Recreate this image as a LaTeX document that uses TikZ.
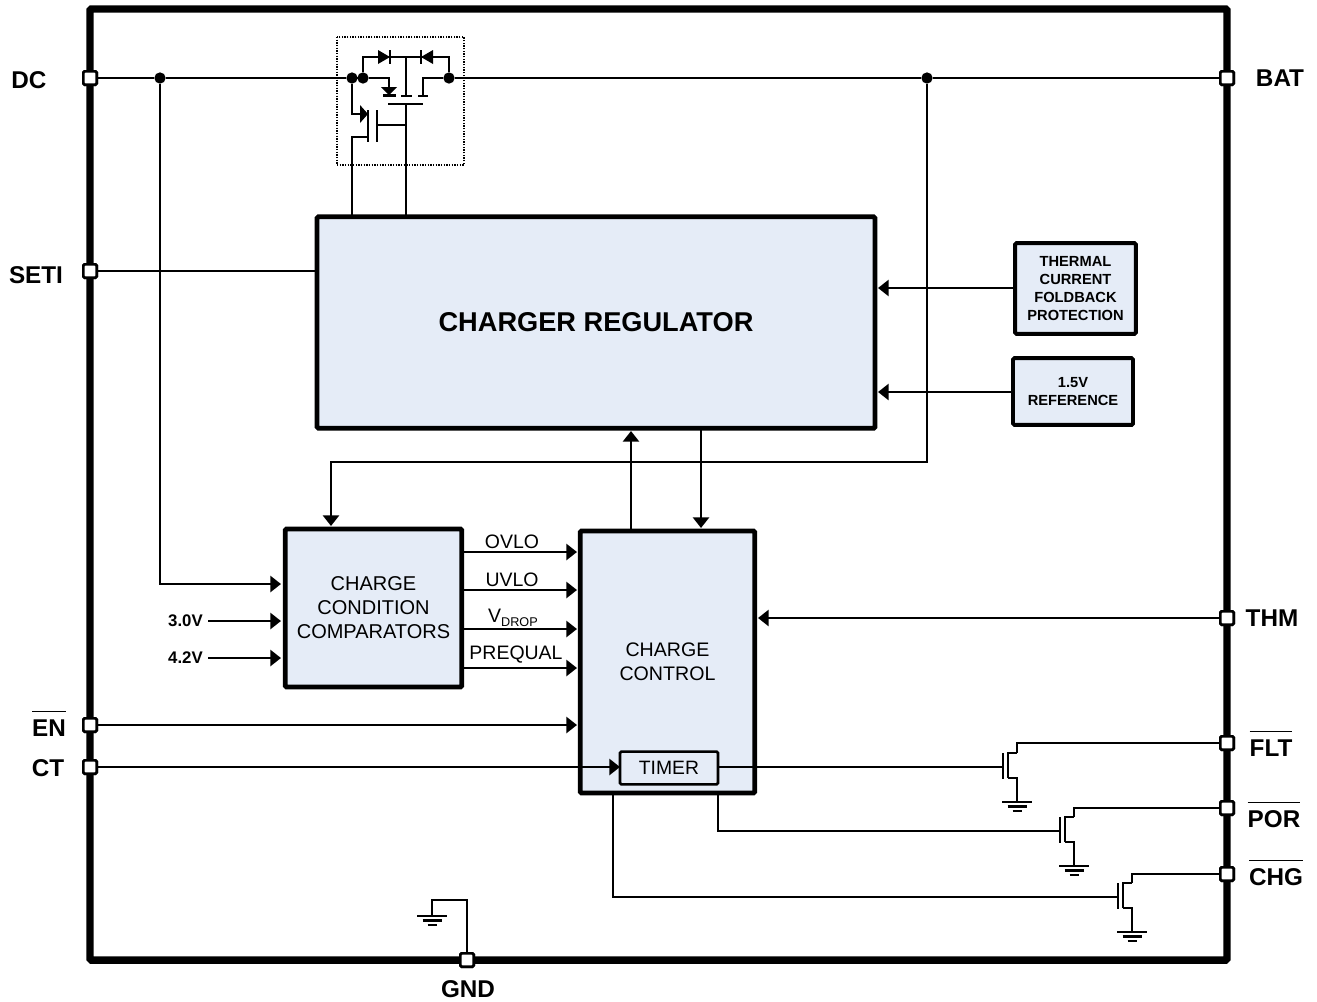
\documentclass[tikz,border=0pt]{standalone}
\usepackage{fontspec}
\setmainfont{Liberation Sans}
\usepackage{amsmath}
\usetikzlibrary{arrows.meta}
\definecolor{blockblue}{HTML}{E5ECF7}
\newcommand{\barred}[1]{$\overline{\mbox{\rule{0pt}{16.2pt}\bfseries #1}}$}
\newcommand{\gndsym}[2]{
	\draw[lowwire] (#1-15,#2) -- (#1+15,#2);
	\draw[lowwire] (#1-9.5,#2+4.5) -- (#1+9.5,#2+4.5);
	\draw[lowwire] (#1-4.5,#2+9) -- (#1+4.5,#2+9);
}
\newcommand{\lowfet}[3]{
	\coordinate (#1g) at (#2,#3);
	\coordinate (#1d) at (#2+14,#3-14);
	\draw[lowwire] (#2,#3-14) -- (#2,#3+12);
	\draw[lowwire] (#2+5,#3+11) -- (#2+5,#3-14) -- (#1d);
	\draw[lowwire] (#2+5,#3+11) -- (#2+14,#3+11) -- (#2+14,#3+35);
	\gndsym{#2+14}{#3+35}
}
\tikzset{
	block/.style={draw,line width=3.6pt,rounded corners=1pt,fill=blockblue,align=center,inner sep=0pt,font=\fontsize{14.7}{18}\selectfont},
	smallblock/.style={block,line width=2.9pt,font=\fontsize{11}{13.5}\selectfont\bfseries},
	pinbox/.style={draw,line width=2pt,fill=white,rounded corners=1pt,minimum size=10pt,inner sep=0pt},
	pinlabel/.style={font=\fontsize{18.2}{20}\selectfont\bfseries,inner sep=0pt},
	sig/.style={font=\fontsize{14.6}{16}\selectfont,inner sep=0pt},
	volt/.style={font=\fontsize{12.6}{14}\selectfont\bfseries,inner sep=0pt,anchor=east},
	dot/.style={circle,fill,minimum size=8.5pt,inner sep=0pt},
	wire/.style={line width=2.2pt,line join=miter},
	lowwire/.style={line width=2pt},
	arr/.style={wire,-{Triangle[length=8pt,width=12pt,sep=0pt]}},
}
\begin{document}
\begin{tikzpicture}[x=0.75pt,y=-0.75pt]
	\useasboundingbox (0,0) rectangle (1317,1001);
	\draw[line width=5.6pt,rounded corners=1pt] (90,9) rectangle (1227,960);

	% blocks
	\node[block,minimum width=418.5pt,minimum height=158.5pt,font=\fontsize{20.4}{24}\selectfont\bfseries] (reg) at (596,322.5) {CHARGER REGULATOR};
	\node[block,minimum width=132.5pt,minimum height=118.5pt,font=\fontsize{15}{18}\selectfont] (comp) at (373.5,608) {CHARGE\\CONDITION\\COMPARATORS};
	\node[block,minimum width=131pt,minimum height=196.5pt] (ctrl) at (667.5,662) {CHARGE\\CONTROL};
	\node[block,line width=1.9pt,minimum width=73.5pt,minimum height=24.5pt,font=\fontsize{14.5}{16}\selectfont] (timer) at (669,768) {TIMER};
	\node[smallblock,minimum width=90.5pt,minimum height=68pt] (therm) at (1075.5,288.5) {THERMAL\\CURRENT\\FOLDBACK\\PROTECTION};
	\node[smallblock,minimum width=90pt,minimum height=50pt] (vref) at (1073,391.5) {1.5V\\REFERENCE};

	% pins
	\node[pinbox] (dc) at (90,78) {};
	\node[pinbox] (bat) at (1227,78) {};
	\node[pinbox] (seti) at (90,271) {};
	\node[pinbox] (thm) at (1227,618) {};
	\node[pinbox] (en) at (90,725) {};
	\node[pinbox] (ct) at (90,767) {};
	\node[pinbox] (flt) at (1227,743) {};
	\node[pinbox] (por) at (1227,808) {};
	\node[pinbox] (chg) at (1227,874) {};
	\node[pinbox] (gnd) at (467,960) {};

	\node[pinlabel] (dcl) at (29,80) {DC};
	\node[pinlabel] (batl) at (1280,78) {BAT};
	\node[pinlabel] (setil) at (36,275) {SETI};
	\node[pinlabel] (thml) at (1272,618) {THM};
	\node[pinlabel] (enl) at (49,723) {\barred{EN}};
	\node[pinlabel] (ctl) at (48,768) {CT};
	\node[pinlabel] (fltl) at (1271,743) {\barred{FLT}};
	\node[pinlabel] (porl) at (1274,814) {\barred{POR}};
	\node[pinlabel] (chgl) at (1276,872) {\barred{CHG}};
	\node[pinlabel] (gndl) at (468,989) {GND};

	% junctions
	\node[dot] (j1) at (160,78) {};
	\node[dot] (j2) at (352,78) {};
	\node[dot] (j3) at (363,78) {};
	\node[dot] (j4) at (449,78) {};
	\node[dot] (j5) at (927,78) {};

	% pass devices
	\draw[densely dotted,line width=1pt] (337,37) rectangle (464,165);
	\coordinate (top) at (406,57);
	\coordinate (gate) at (406,104);
	\coordinate (reg1) at (352,216);
	\coordinate (reg2) at (406,216);
	\draw[wire] (dc) -- (j1) -- (j2) -- (j3);
	\draw[wire] (j4) -- (j5) -- (bat);
	\draw[wire] (j3) |- (top) -| (j4);
	\fill (378,50) -- (390,57) -- (378,64) -- cycle;
	\draw[wire] (390,50) -- (390,64);
	\fill (433,50) -- (421,57) -- (433,64) -- cycle;
	\draw[wire] (421,50) -- (421,64);
	\draw[wire] (j3) -- (389,78) -- (389,95);
	\fill (381,87) -- (397,87) -- (389,95) -- cycle;
	\draw[wire] (383,95.5) -- (396,95.5);
	\draw[wire] (j4) -- (423,78) -- (423,96);
	\draw[wire] (418,96) -- (428,96);
	\draw[wire] (top) -- (406,96);
	\draw[wire] (401,96) -- (412,96);
	\draw[wire] (388,104) -- (423,104);
	\draw[wire] (gate) -- (reg2);
	\draw[wire] (j2) |- (362,114);
	\fill (360,105) -- (368,114) -- (360,123) -- cycle;
	\draw[wire] (368,110) -- (368,142);
	\draw[wire] (377,110) -- (377,142);
	\draw[wire] (377,125) -- (406,125);
	\draw[wire] (368,137) -| (reg1);

	% wires to the blocks
	\coordinate (cin) at (281,584);
	\draw[arr] (j1) |- (cin);
	\node[volt] (v30) at (203,621) {3.0V};
	\node[volt] (v42) at (203,658) {4.2V};
	\coordinate (c30) at (281,621);
	\coordinate (c42) at (281,658);
	\draw[arr] (208,621) -- (c30);
	\draw[arr] (208,658) -- (c42);
	\draw[wire] (seti) -- (reg.west |- seti);
	\coordinate (bend) at (331,462);
	\coordinate (ctop) at (331,526);
	\draw[arr] (j5) |- (bend) -- (ctop);
	\draw[arr] (631,531) -- (631,431);
	\draw[arr] (701,428) -- (701,528);
	\coordinate (r1) at (878,288);
	\coordinate (r2) at (878,392);
	\draw[arr] (therm.west |- r1) -- (r1);
	\draw[arr] (vref.west |- r2) -- (r2);
	\coordinate (c1) at (758,618);
	\draw[arr] (thm) -- (c1);

	% comparator outputs
	\foreach \y/\name in {552/o1,590/o2,629/o3,668/o4}{
		\coordinate (\name) at (577,\y);
		\draw[arr] (463,\y) -- (\name);
	}
	\node[sig] (ovlo) at (512,542) {OVLO};
	\node[sig] (uvlo) at (512,580) {UVLO};
	\node[sig] (vdrop) at (513,618) {V\raisebox{-2.5pt}{\fontsize{9.5}{10}\selectfont DROP}};
	\node[sig] (prequal) at (516,655) {PREQUAL};

	\coordinate (c2) at (577,725);
	\draw[arr] (en) -- (c2);
	\coordinate (tin) at (620,767);
	\draw[arr] (ct) -- (tin);

	% outputs
	\lowfet{fa}{1003}{767}
	\lowfet{fb}{1060}{831}
	\lowfet{fc}{1118}{897}
	\draw[lowwire] (timer.east |- fag) -- (fag);
	\draw[lowwire] (718,793) |- (fbg);
	\draw[lowwire] (613,793) |- (fcg);
	\draw[lowwire] (fad) |- (flt);
	\draw[lowwire] (fbd) |- (por);
	\draw[lowwire] (fcd) |- (chg);

	\coordinate (gb) at (432,916);
	\draw[lowwire] (gnd) |- (432,900) -- (gb);
	\gndsym{432}{916}

	% pins stay on top of the wires
	\foreach \p in {dc,bat,seti,thm,en,ct,flt,por,chg,gnd}
		\node[pinbox] at (\p) {};
\end{tikzpicture}
\end{document}
